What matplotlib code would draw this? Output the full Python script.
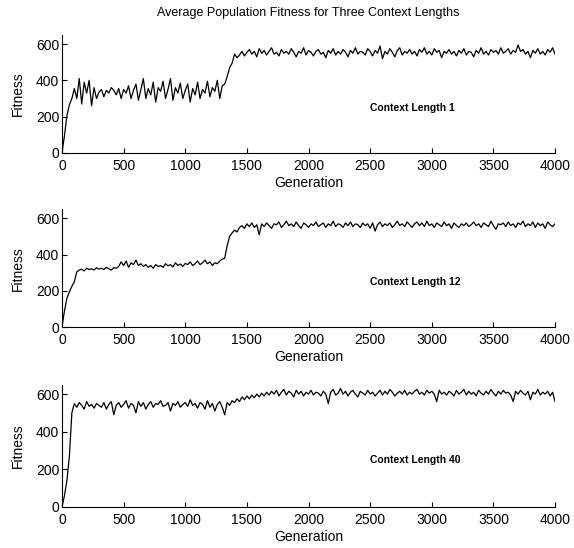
import matplotlib
matplotlib.use("Agg")
import matplotlib.pyplot as plt
import numpy as np

plt.rcParams['font.family'] = ['Liberation Sans', 'DejaVu Sans']

# generations sampled every 20 steps
gens = np.arange(0, 4001, 20)

fit_len1 = [
    0, 95, 205, 265, 300,
    355, 300, 410, 270, 390, 330, 400, 260, 360, 300, 335,
    350, 310, 345, 330, 360, 345, 320, 355, 300, 350,
    330, 370, 300, 345, 380, 290, 350, 410, 300, 355,
    320, 390, 280, 360, 340, 395, 300, 350, 410, 290,
    360, 330, 385, 300, 345, 380, 280, 355, 320, 390,
    300, 350, 330, 395, 310, 360, 340, 400, 300, 370,
    380, 420, 470, 495, 545, 525,
    540, 560, 535, 555, 570, 545, 560, 530, 575, 550,
    565, 540, 560, 580, 545, 555, 535, 570, 550, 560,
    545, 575, 555, 530, 560, 550, 580, 540, 565, 555,
    535, 560, 570, 545, 555, 525, 565, 550, 575, 540,
    560, 545, 570, 555, 530, 565, 550, 580, 545, 560,
    555, 540, 575, 560, 535, 565, 550, 590, 520, 560,
    545, 575, 555, 530, 565, 580, 540, 560, 550, 570,
    545, 560, 535, 570, 555, 580, 545, 560, 540, 575,
    555, 565, 525, 560, 550, 570, 545, 560, 535, 565,
    550, 575, 540, 560, 555, 530, 565, 550, 580, 545,
    560, 540, 570, 555, 565, 545, 580, 550, 560, 575,
    545, 565, 555, 595, 560, 570, 545, 560, 525, 565,
    550, 575, 545, 560, 540, 570, 555, 580, 545,
]

fit_len12 = [
    0, 90, 160, 195, 225, 250, 305,
    315, 320, 310, 325, 318, 322, 315, 328, 320, 325, 318, 330, 322, 315, 328, 325, 335,
    360, 340, 365, 330, 355, 345, 370, 340, 350, 335,
    345, 330, 340, 325, 345, 335, 340, 330, 350, 338,
    345, 332, 355, 340, 348, 335, 352, 345, 360, 340,
    350, 365, 345, 355, 370, 350, 360, 340, 355, 350,
    365, 375,
    380, 450, 500, 520, 535, 525, 550,
    560, 545, 570, 555, 575, 550, 565, 510, 570, 555,
    575, 560, 545, 570, 565, 580, 550, 565, 585, 560,
    570, 555, 580, 560, 545, 575, 565, 550, 570, 560,
    580, 555, 565, 575, 550, 570, 560, 585, 555, 570,
    565, 550, 575, 560, 580, 555, 570, 565, 550, 575,
    560, 570, 545, 575, 530, 565, 580, 555, 570, 560,
    575, 550, 565, 585, 560, 570, 555, 580, 565, 550,
    570, 580, 560, 575, 555, 585, 560, 570, 550, 575,
    565, 555, 580, 560, 570, 545, 575, 560, 550, 570,
    560, 575, 555, 565, 580, 560, 570, 550, 575, 565,
    555, 585, 560, 540, 570, 565, 575, 555, 580, 560,
    570, 550, 575, 565, 585, 555, 570, 560, 580, 550,
    575, 560, 570, 545, 580, 565, 555, 570,
]

fit_len40 = [
    0, 60, 140, 270, 500, 550,
    530, 555, 540, 520, 560, 535, 545, 525, 550, 540,
    530, 555, 520, 545, 560, 490, 540, 555, 530, 545,
    565, 525, 550, 540, 500, 560, 535, 555, 520, 545,
    560, 530, 550, 545, 565, 535, 540, 555, 510, 550,
    540, 560, 530, 545, 555, 535, 570, 540, 550, 525,
    555, 545, 520, 565, 530, 550, 510, 545, 560, 530,
    490, 555, 540, 565, 555, 575, 560, 585, 570, 590,
    575, 595, 580, 600, 585, 605, 590, 610, 595, 615,
    600, 620, 590, 610, 625, 595, 615, 605, 585, 620,
    600, 615, 590, 610, 600, 620, 595, 610, 605, 590,
    615, 600, 550, 610, 625, 595, 605, 630, 600, 615,
    590, 610, 620, 600, 585, 615, 605, 595, 620, 600,
    610, 590, 605, 620, 595, 615, 600, 625, 610, 590,
    605, 615, 600, 620, 595, 610, 600, 615, 625, 600,
    610, 595, 620, 605, 615, 600, 560, 620, 600, 610,
    595, 615, 605, 590, 620, 600, 610, 625, 595, 615,
    600, 610, 590, 620, 605, 595, 615, 600, 625, 605,
    590, 615, 600, 620, 605, 610, 595, 560, 615, 600,
    620, 605, 595, 615, 570, 610, 600, 625, 595, 610,
    600, 615, 590, 610, 560,
]

series = [fit_len1, fit_len12, fit_len40]
labels = ['Context Length 1', 'Context Length 12', 'Context Length 40']
xticks = [0, 500, 1000, 1500, 2000, 2500, 3000, 3500, 4000]
yticks = [0, 200, 400, 600]

fig = plt.figure(figsize=(5.74, 5.48), dpi=100)
rects = [
    [0.108, 0.721, 0.859, 0.215],
    [0.108, 0.403, 0.859, 0.215],
    [0.108, 0.075, 0.859, 0.223],
]

for rect, vals, lab in zip(rects, series, labels):
    ax = fig.add_axes(rect)
    ax.plot(gens, vals, color='black', linewidth=0.9)
    ax.set_xlim(0, 4000)
    ax.set_ylim(0, 650)
    ax.set_xticks(xticks)
    ax.set_yticks(yticks)
    ax.spines['top'].set_visible(False)
    ax.spines['right'].set_visible(False)
    ax.tick_params(direction='in', length=3.5, labelsize=10)
    ax.tick_params(axis='x', pad=4.5)
    ax.tick_params(axis='y', pad=2)
    ax.set_xlabel('Generation', fontsize=10, labelpad=2)
    ax.set_ylabel('Fitness', fontsize=10, labelpad=8)
    ax.text(2500, 250, lab, fontsize=7.5, fontweight='bold', va='center', ha='left')

fig.text(0.537, 0.977, 'Average Population Fitness for Three Context Lengths',
         ha='center', va='center', fontsize=9)

fig.savefig('out.png', dpi=100)
